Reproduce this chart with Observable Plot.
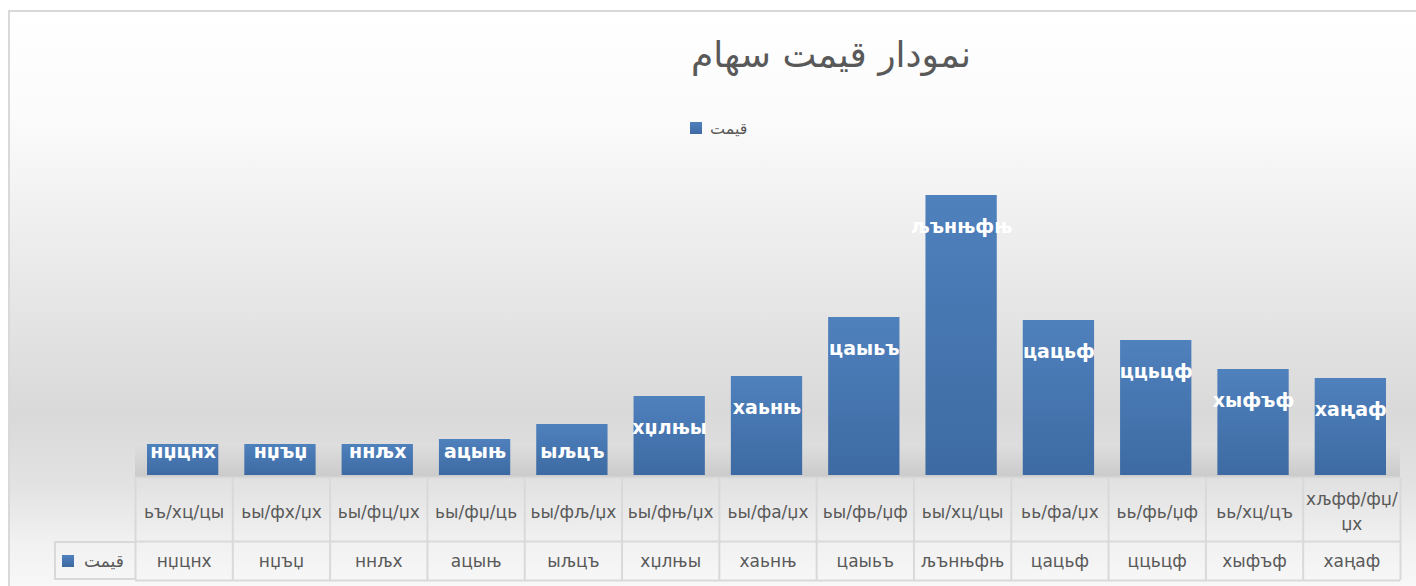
<!DOCTYPE html>
<html>
<head>
<meta charset="utf-8">
<script src="https://cdn.jsdelivr.net/npm/d3@7"></script>
<script src="https://cdn.jsdelivr.net/npm/@observablehq/plot@0.6"></script>
<style>
  html, body { margin: 0; padding: 0; background: #fff; }
  #wrap { position: relative; width: 1416px; height: 586px; overflow: hidden; font-family: "DejaVu Sans", sans-serif; }
  #bg { position: absolute; left: 8px; top: 10px; width: 1420px; height: 590px; border-left: 2px solid #d9d9d9; border-top: 2px solid #d9d9d9;
        background: linear-gradient(to bottom, #ffffff 0%, #fbfbfb 18%, #ececec 40%, #d9d9d9 68%, #e2e2e2 80%, #f1f1f1 90%, #fafafa 100%); }
  #floor { position: absolute; left: 135px; top: 445px; width: 1265px; height: 32px;
           background: linear-gradient(to bottom, rgba(0,0,0,0) 0%, rgba(0,0,0,0.07) 70%, rgba(0,0,0,0.1) 100%); }
  #title { position: absolute; top: 34px; left: 831px; transform: translateX(-50%); font-size: 36px; color: #595959; white-space: nowrap; direction: rtl; }
  #legend { position: absolute; top: 116px; left: 690px; height: 24px; display: flex; align-items: center; gap: 8px; font-size: 16px; color: #595959; }
  .sw { width: 12px; height: 12px; background: linear-gradient(to bottom, #4f81bd, #3e6aa3); display: inline-block; }
  #chart { position: absolute; top: 150px; left: 0; }
  #tlegend { position: absolute; left: 54px; top: 541px; width: 81px; height: 39px; border: 2px solid #d9d9d9; border-right: none; box-sizing: border-box;
             display: flex; align-items: center; gap: 10px; padding-left: 6px; font-size: 17px; color: #595959; }
</style>
</head>
<body>
<div id="wrap">
  <div id="bg"></div>
  <div id="floor"></div>
  <div id="title"></div>
  <div id="legend"><span class="sw"></span><span class="lt"></span></div>
  <div id="chart"></div>
  <div id="tlegend"><span class="sw"></span><span class="lt"></span></div>
</div>
<script>
const chartTitle = "نمودار قیمت سهام";
const seriesName = "قیمت";
const categories = ["ьъ/хц/цы", "ьы/фх/џх", "ьы/фц/џх", "ьы/фџ/ць", "ьы/фљ/џх", "ьы/фњ/џх", "ьы/фа/џх", "ьы/фь/џф", "ьы/хц/цы", "ьь/фа/џх", "ьь/фь/џф", "ьь/хц/цъ", "хљфф/фџ/џх"];
const values = [31, 31, 31, 36, 51, 79, 99, 158, 280, 155, 135, 106, 97];
const valueLabels = ["нџцнх", "нџъџ", "ннљх", "ацыњ", "ыљцъ", "хџлњы", "хаьнњ", "цаыьъ", "љънњфњ", "цацьф", "ццьцф", "хыфъф", "хаңаф"];

document.getElementById("title").textContent = chartTitle;
document.querySelectorAll(".lt").forEach(e => e.textContent = seriesName);

const data = categories.map((c, i) => ({i, category: c, value: values[i], label: valueLabels[i]}));
const wrapCat = s => s.length > 9 ? s.slice(0, s.lastIndexOf("/") + 1) + "\n" + s.slice(s.lastIndexOf("/") + 1) : s;

const grid = "#d9d9d9";
const svg = Plot.plot({
  width: 1416, height: 436,
  marginLeft: 135, marginRight: 16, marginTop: 25, marginBottom: 111,
  x: {domain: [0, 13], axis: null},
  y: {domain: [0, 300], axis: null},
  style: {background: "transparent", overflow: "visible", fontFamily: "DejaVu Sans, sans-serif"},
  marks: [
    Plot.rectY(data, {x1: "i", x2: d => d.i + 1, y: "value", insetLeft: 12, insetRight: 14, fill: "url(#barGrad)"}),
    Plot.text(data, {x: d => d.i + 0.5, y: d => Math.max(d.value - 31, 24), text: "label", fill: "white", fontWeight: "bold", fontSize: 19, dx: -1}),
    Plot.ruleY([-2, -66, -105], {x1: 0, x2: 13, stroke: grid, strokeWidth: 2}),
    Plot.ruleX(d3.range(14), {y1: -2, y2: -105, stroke: grid, strokeWidth: 2}),
    Plot.text(data, {x: d => d.i + 0.5, y: -34, text: d => wrapCat(d.category), fill: "#595959", fontSize: 17, lineHeight: 1.5}),
    Plot.text(data, {x: d => d.i + 0.5, y: -86, text: "label", fill: "#595959", fontSize: 17})
  ]
});
const defs = d3.select(svg).insert("defs", ":first-child");
const g = defs.append("linearGradient").attr("id", "barGrad").attr("x1", 0).attr("y1", 0).attr("x2", 0).attr("y2", 1);
g.append("stop").attr("offset", "0%").attr("stop-color", "#4f81bd");
g.append("stop").attr("offset", "100%").attr("stop-color", "#3d6aa2");
document.getElementById("chart").appendChild(svg);
</script>
</body>
</html>
